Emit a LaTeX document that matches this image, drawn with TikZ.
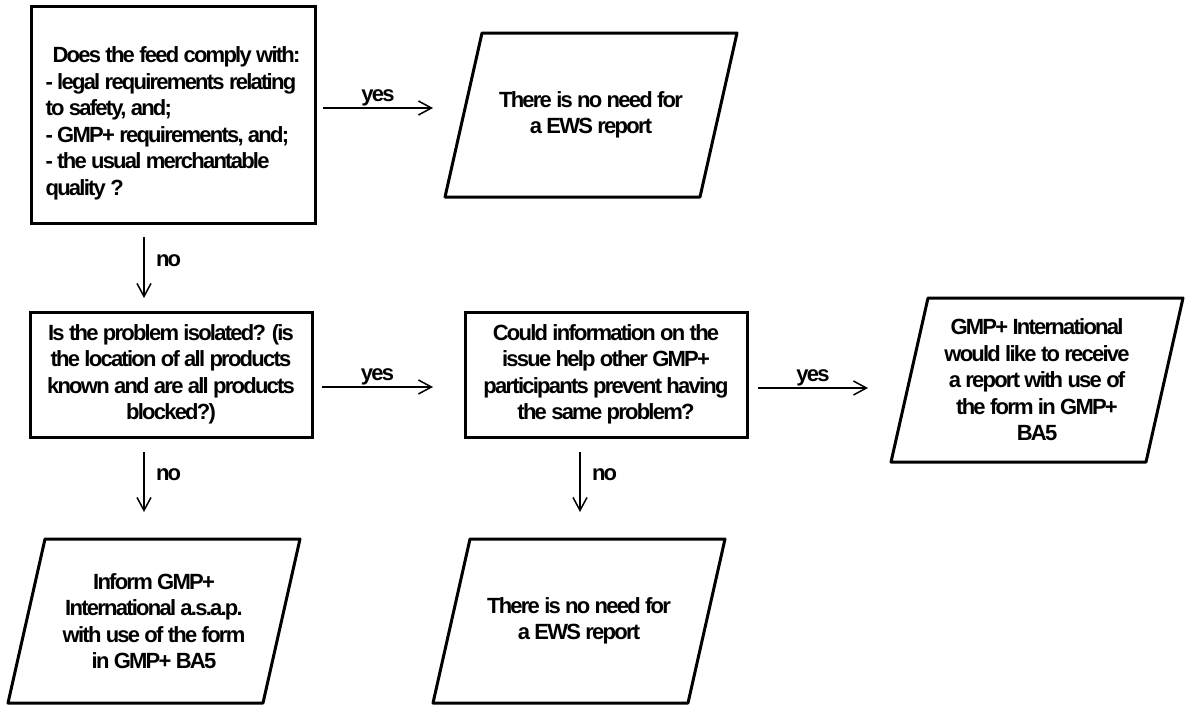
\documentclass[tikz,border=0pt]{standalone}
\usepackage{fontspec}
\setmainfont{Liberation Sans}[LetterSpace=-8]
\usetikzlibrary{arrows.meta}
\tikzset{
  txt/.style={font=\bfseries\fontsize{22}{26.5}\selectfont, outer sep=0pt, inner sep=0pt},
  boxnode/.style={txt, draw, line width=3pt, align=center},
  paranode/.style={txt, align=center, minimum width=292pt, minimum height=164pt},
  paraline/.style={line width=3pt, line join=round},
  arr/.style={line width=1.5pt, -{Straight Barb[length=13pt,width=14pt,line width=1.5pt]}},
  lbl/.style={txt}
}
\begin{document}
\begin{tikzpicture}[x=1pt,y=-1pt]
\useasboundingbox (0,0) rectangle (1190,704);
% boxes
\node[boxnode, align=left, minimum width=284pt, minimum height=217pt] (b1) at (173,114.5)
  {\rule{0pt}{34pt}\hspace{7pt}Does the feed comply with:\\- legal requirements relating\\to safety, and;\\- GMP+ requirements, and;\\- the usual merchantable\\quality ?};
\node[boxnode, minimum width=282pt, minimum height=125pt] (b2) at (171,374.5)
  {Is the problem isolated? (is\\the location of all products\\known and are all products\\blocked?)};
\node[boxnode, minimum width=282pt, minimum height=125pt] (b3) at (606,374.5)
  {Could information on the\\issue help other GMP+\\participants prevent having\\the same problem?};
% parallelograms
\node[paranode] (p1) at (591,115) {There is no need for\\a EWS report};
\node[paranode] (p3) at (1037,380) {GMP+ International\\would like to receive\\a report with use of\\the form in GMP+\\BA5};
\node[paranode] (p4) at (154,621) {Inform GMP+\\International a.s.a.p.\\with use of the form\\in GMP+ BA5};
\node[paranode] (p5) at (579,621) {There is no need for\\a EWS report};
\foreach \p in {p1,p3,p4,p5}{
  \draw[paraline] ([xshift=37pt]\p.north west) -- (\p.north east) -- ([xshift=-37pt]\p.south east) -- (\p.south west) -- cycle;
}
% connectors
\draw[arr] ([xshift=8pt,yshift=6.5pt]b1.east) -- node[lbl, midway, above=2pt] {yes} ([xshift=-12pt,yshift=7pt]p1.west);
\draw[arr] ([xshift=-29pt,yshift=-14pt]b1.south) -- node[lbl, pos=0.38, right=12pt] {no} ([xshift=-27pt,yshift=14pt]b2.north);
\draw[arr] ([xshift=10pt,yshift=-12.5pt]b2.east) -- node[lbl, midway, above=2pt] {yes} ([xshift=-32pt,yshift=-12.5pt]b3.west);
\draw[arr] ([xshift=11pt,yshift=-13.5pt]b3.east) -- node[lbl, midway, above=2pt] {yes} ([xshift=-23pt,yshift=-8pt]p3.west);
\draw[arr] ([xshift=-27pt,yshift=-15pt]b2.south) -- node[lbl, pos=0.38, right=12pt] {no} ([xshift=-10pt,yshift=27pt]p4.north);
\draw[arr] ([xshift=-26pt,yshift=-15pt]b3.south) -- node[lbl, pos=0.38, right=12pt] {no} ([xshift=1pt,yshift=27pt]p5.north);
\end{tikzpicture}
\end{document}
